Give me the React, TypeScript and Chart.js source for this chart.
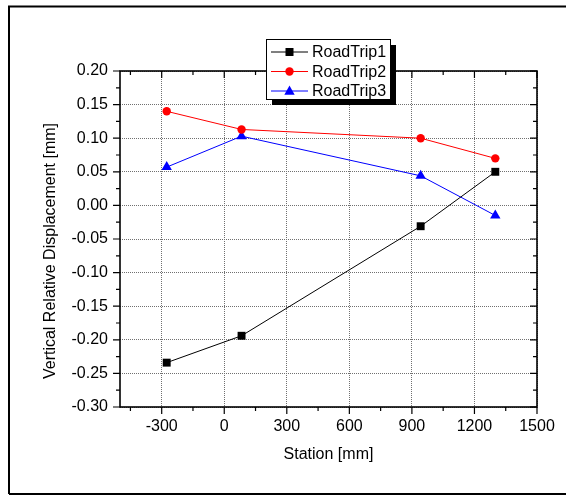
import React, { useEffect, useRef } from "react";
import { Chart, registerables } from "chart.js";

Chart.register(...registerables);

// ---- data ----
const stations = [-276, 83, 942, 1300];
const roadTrip1 = [-0.234, -0.194, -0.031, 0.05];
const roadTrip2 = [0.14, 0.113, 0.1, 0.07];
const roadTrip3 = [0.057, 0.103, 0.044, -0.015];
const seriesLabels = ["RoadTrip1", "RoadTrip2", "RoadTrip3"];
const seriesColors = ["#000000", "#ff0000", "#0000ff"];
const seriesMarkers = ["rect", "circle", "triangle"];
const xTicks = [-300, 0, 300, 600, 900, 1200, 1500];
const xMinorTicks = [-450, -150, 150, 450, 750, 1050, 1350];
const yTicks = [-0.3, -0.25, -0.2, -0.15, -0.1, -0.05, 0, 0.05, 0.1, 0.15, 0.2];
const yMinorTicks = [-0.275, -0.225, -0.175, -0.125, -0.075, -0.025, 0.025, 0.075, 0.125, 0.175];
const xRange = [-500, 1500];
const yRange = [-0.3, 0.2];
const xTitle = "Station [mm]";
const yTitle = "Vertical Relative Displacement [mm]";

const FONT = "'Liberation Sans', Arial, sans-serif";

function drawMarker(ctx: CanvasRenderingContext2D, kind: string, x: number, y: number, color: string) {
  ctx.save();
  ctx.fillStyle = color;
  ctx.beginPath();
  if (kind === "rect") {
    ctx.rect(x - 4, y - 4, 8, 8);
  } else if (kind === "circle") {
    ctx.arc(x, y, 4.2, 0, Math.PI * 2);
  } else {
    ctx.moveTo(x, y - 5.5);
    ctx.lineTo(x + 5.2, y + 3.7);
    ctx.lineTo(x - 5.2, y + 3.7);
    ctx.closePath();
  }
  ctx.fill();
  ctx.restore();
}

const decorPlugin = {
  id: "decor",
  beforeDraw(chart: any) {
    const ctx = chart.ctx;
    ctx.save();
    ctx.fillStyle = "#ffffff";
    ctx.fillRect(0, 0, chart.width, chart.height);
    ctx.restore();
  },
  afterDraw(chart: any) {
    const ctx: CanvasRenderingContext2D = chart.ctx;
    const { left, right, top, bottom } = chart.chartArea;
    const xs = chart.scales.x;
    const ys = chart.scales.y;
    ctx.save();
    // outer border
    ctx.strokeStyle = "#000";
    ctx.lineWidth = 2;
    ctx.beginPath();
    ctx.moveTo(9, 494);
    ctx.lineTo(9, 6.5);
    ctx.lineTo(chart.width + 5, 6.5);
    ctx.moveTo(9, 494);
    ctx.lineTo(chart.width + 5, 494);
    ctx.stroke();

    // plot frame
    ctx.lineWidth = 1.6;
    ctx.strokeRect(left, top, right - left, bottom - top);

    // ticks
    ctx.lineWidth = 1.2;
    ctx.beginPath();
    xTicks.forEach((v) => {
      const px = xs.getPixelForValue(v);
      ctx.moveTo(px, bottom);
      ctx.lineTo(px, bottom + 7);
      ctx.moveTo(px, top);
      ctx.lineTo(px, top + 7);
    });
    xMinorTicks.forEach((v) => {
      const px = xs.getPixelForValue(v);
      ctx.moveTo(px, bottom);
      ctx.lineTo(px, bottom + 4);
      ctx.moveTo(px, top);
      ctx.lineTo(px, top + 4);
    });
    yTicks.forEach((v) => {
      const py = ys.getPixelForValue(v);
      ctx.moveTo(left, py);
      ctx.lineTo(left - 7, py);
      ctx.moveTo(right, py);
      ctx.lineTo(right - 7, py);
    });
    yMinorTicks.forEach((v) => {
      const py = ys.getPixelForValue(v);
      ctx.moveTo(left, py);
      ctx.lineTo(left - 4, py);
      ctx.moveTo(right, py);
      ctx.lineTo(right - 4, py);
    });
    ctx.stroke();

    // axis titles
    ctx.fillStyle = "#000";
    ctx.font = `16px ${FONT}`;
    ctx.textAlign = "center";
    ctx.textBaseline = "middle";
    ctx.fillText(xTitle, (left + right) / 2, 455);
    ctx.save();
    ctx.translate(51, 251);
    ctx.rotate(-Math.PI / 2);
    ctx.fillText(yTitle, 0, 0);
    ctx.restore();

    // legend
    const bx = 266, by = 39, bw = 124, bh = 60;
    ctx.fillStyle = "#000";
    ctx.fillRect(bx + 6, by + 6, bw, bh);
    ctx.fillStyle = "#fff";
    ctx.fillRect(bx, by, bw, bh);
    ctx.lineWidth = 1;
    ctx.strokeStyle = "#000";
    ctx.strokeRect(bx + 0.5, by + 0.5, bw, bh);
    chart.data.datasets.forEach((ds: any, i: number) => {
      const cy = 52 + i * 19.5;
      ctx.strokeStyle = ds.borderColor;
      ctx.lineWidth = 1;
      ctx.beginPath();
      ctx.moveTo(271, cy);
      ctx.lineTo(308, cy);
      ctx.stroke();
      drawMarker(ctx, seriesMarkers[i], 289.5, cy, ds.borderColor);
      ctx.fillStyle = "#000";
      ctx.font = `16px ${FONT}`;
      ctx.textAlign = "left";
      ctx.textBaseline = "middle";
      ctx.fillText(ds.label, 312, cy + 1);
    });
    ctx.restore();
  },
};

export default function App() {
  const ref = useRef<HTMLCanvasElement | null>(null);
  useEffect(() => {
    if (!ref.current) return;
    const series = [roadTrip1, roadTrip2, roadTrip3];
    const chart = new Chart(ref.current, {
      type: "scatter",
      data: {
        datasets: series.map((vals, i) => ({
          label: seriesLabels[i],
          data: vals.map((v, j) => ({ x: stations[j], y: v })),
          showLine: true,
          borderColor: seriesColors[i],
          backgroundColor: seriesColors[i],
          borderWidth: 1,
          pointStyle: seriesMarkers[i] as any,
          pointRadius: i === 0 ? 5.6 : i === 1 ? 4.2 : 6,
          pointBorderWidth: 0,
          pointHoverRadius: 5,
        })),
      },
      options: {
        responsive: false,
        animation: false,
        devicePixelRatio: 1,
        layout: { padding: { top: 71, right: 29, left: 0, bottom: 0 } },
        plugins: { legend: { display: false }, tooltip: { enabled: false } },
        scales: {
          x: {
            type: "linear",
            min: xRange[0],
            max: xRange[1],
            afterBuildTicks: (s: any) => {
              s.ticks = xTicks.map((v) => ({ value: v }));
            },
            afterFit: (s: any) => {
              s.height = 89;
            },
            grid: { color: "#707070", lineWidth: 1, drawTicks: false },
            border: { display: false, dash: [1, 1] },
            ticks: {
              color: "#000",
              padding: 10,
              maxRotation: 0,
              autoSkip: false,
              font: { family: FONT, size: 16 },
              callback: (v: any) => String(v),
            },
          },
          y: {
            type: "linear",
            min: yRange[0],
            max: yRange[1],
            afterBuildTicks: (s: any) => {
              s.ticks = yTicks.map((v) => ({ value: v }));
            },
            afterFit: (s: any) => {
              s.width = 120;
            },
            grid: { color: "#707070", lineWidth: 1, drawTicks: false },
            border: { display: false, dash: [1, 1] },
            ticks: {
              color: "#000",
              padding: 12,
              autoSkip: false,
              font: { family: FONT, size: 16 },
              callback: (v: any) => Number(v).toFixed(2),
            },
          },
        },
      },
      plugins: [decorPlugin],
    });
    return () => chart.destroy();
  }, []);
  return (
    <div style={{ position: "absolute", left: 0, top: 0, width: 566, height: 496 }}>
      <canvas ref={ref} width={566} height={496} style={{ width: 566, height: 496, display: "block" }} />
    </div>
  );
}
